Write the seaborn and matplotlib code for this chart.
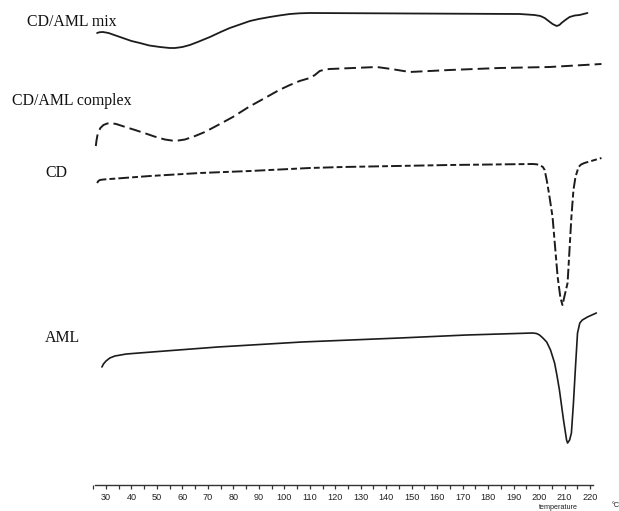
import numpy as np
import pandas as pd
import matplotlib
matplotlib.use("Agg")
import matplotlib.pyplot as plt
import seaborn as sns

# ---- data (temperature in degC, relative signal in a.u., larger = lower on chart) ----
mix_T = [26.5, 27.5, 28.8, 31, 35.5, 40, 43.3, 47, 51.2, 55, 57.1, 60, 62.9, 66, 70.8, 75, 78.6,
         82, 86.5, 90, 94.3, 98, 102.2, 106, 110, 150, 192.4, 198.2, 200.5, 202.2, 204, 205.3,
         206.9, 208, 208.8, 210.3, 212, 214, 215.9, 219]
mix_y = [33, 32.2, 32, 33, 37, 41, 43, 45.5, 47, 48, 48, 47, 45, 42, 37, 32, 28,
         25, 21, 19, 17, 15.5, 14, 13.3, 13, 13.5, 14, 15, 16, 18, 21.5, 24,
         26, 25, 23, 20, 17, 15.5, 15, 13]

cplx_T = [26.0, 26.3, 26.8, 27.8, 29, 30.5, 31.6, 34, 37, 41.4, 45, 49, 53.1, 57.1, 61, 65,
          68.8, 74, 79.8, 86, 93.1, 98, 102.2, 106, 110, 112, 113.9, 116, 117.8, 136.3,
          142, 149.2, 164.9, 184.5, 204.1, 224.5]
cplx_y = [146, 140, 133, 128, 125, 123.5, 123, 124, 126.5, 130, 133, 136.5, 139.5, 141, 139.5, 136,
          132, 125, 117, 107, 97, 90, 85, 81, 78, 75, 71, 69.5, 69, 67,
          69, 72, 70, 68, 67, 64]

cd_T = [26.5, 27, 27.6, 29, 31.6, 47.3, 66.9, 86.5, 110, 123, 165, 197.5, 199, 200.2, 201.5,
        202.2, 203, 204, 205.3, 207.3, 208.4, 209.2, 210, 211.2, 212.7, 213.5, 214.3, 215.5,
        216.5, 217.8, 224.5]
cd_y = [183, 181, 180, 179.5, 179, 176, 173, 171, 168, 167, 165, 164, 164.3, 165, 167,
        170, 180, 195, 217, 277, 298, 305, 296, 283, 217, 190, 177, 167,
        164.5, 163, 158]

aml_T = [28.4, 29, 30, 31.5, 33.5, 38, 48, 73.9, 106.9, 145.3, 171.6, 197.5, 199, 200.2, 201.5,
         203, 204.5, 206.1, 207, 208, 209.6, 210.8, 211.2, 212, 212.7, 213.5, 214.3, 215.1,
         216, 217, 219, 222.5]
aml_y = [367, 364, 361, 358, 356, 354, 352, 347, 342, 338, 335, 333, 333.5, 335, 338,
         342, 350, 363, 375, 390, 420, 440, 443, 440, 433, 403, 367, 333,
         323, 320, 317, 313]

labels = ["CD/AML mix", "CD/AML complex", "CD", "AML"]
tick_values = list(range(30, 221, 10))
x_label = "temperature"
unit_label = "°C"

# ---- figure ----
W, H = 619, 511
sns.set_style("white")
plt.rcParams["font.family"] = ["Liberation Serif", "DejaVu Serif"]

fig = plt.figure(figsize=(W / 100, H / 100), dpi=100)
# axis line at y=485 px; x mapping 30 degC -> 106 px, 220 degC -> 590 px
ax = fig.add_axes([0, (H - 485) / H, 1, 485 / H])
px_per_deg = (590 - 106) / 190.0
x0 = 30 - 106 / px_per_deg
x1 = 30 + (W - 106) / px_per_deg
ax.set_xlim(x0, x1)
ax.set_ylim(485, 0)

col = "#1c1c1c"
series = [
    (mix_T, mix_y, "-", 1.3),
    (cplx_T, cplx_y, (0, (6, 2.6)), 1.4),
    (cd_T, cd_y, (0, (5.5, 1.6, 3, 1.6)), 1.4),
    (aml_T, aml_y, "-", 1.2),
]
for T, y, ls, lw in series:
    df = pd.DataFrame({"T": T, "y": y})
    sns.lineplot(data=df, x="T", y="y", ax=ax, sort=False, estimator=None,
                 color=col, linewidth=lw, linestyle=ls)

for s in ["top", "left", "right"]:
    ax.spines[s].set_visible(False)
ax.spines["bottom"].set_color("#333333")
ax.spines["bottom"].set_linewidth(1.0)
ax.spines["bottom"].set_bounds(25.7, 221)

ax.set_xticks(tick_values)
ax.set_xticks(np.arange(25, 221, 5), minor=True)
ax.set_xticklabels([str(v) for v in tick_values], family="Liberation Sans", fontsize=6.6, color="#222222")
ax.tick_params(axis="x", which="both", bottom=True, direction="out", length=2.8, width=0.9,
               colors="#333333")
ax.tick_params(axis="x", which="major", pad=3.2, labelcolor="#222222")
ax.set_yticks([])
ax.set_xlabel("")
ax.set_ylabel("")

# curve labels
label_pos = [(27, 26), (12, 105), (45, 177), (45, 342)]
for txt, (px, py) in zip(labels, label_pos):
    fig.text(px / W, 1 - py / H, txt, fontsize=11.4, color="#111111", ha="left", va="baseline")

fig.text(558 / W, 1 - 509 / H, x_label, family="Liberation Sans", fontsize=5.2, color="#222222", ha="center", va="baseline")
fig.text(612 / W, 1 - 507 / H, unit_label, family="Liberation Sans", fontsize=5.2, color="#222222", ha="left", va="baseline")

fig.savefig("out.png", dpi=100)
